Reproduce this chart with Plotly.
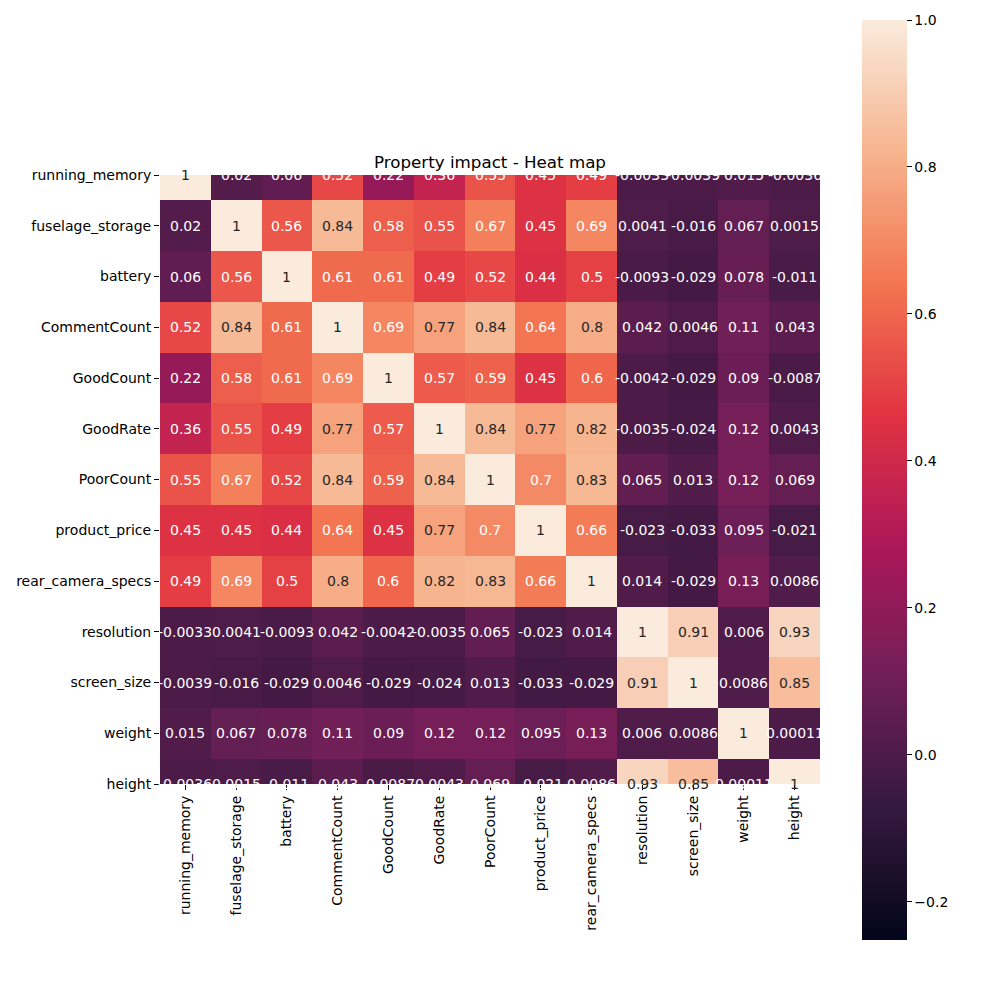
import plotly.graph_objects as go

labels = ["running_memory", "fuselage_storage", "battery", "CommentCount", "GoodCount",
          "GoodRate", "PoorCount", "product_price", "rear_camera_specs", "resolution",
          "screen_size", "weight", "height"]

running_memory    = [1, 0.02, 0.06, 0.52, 0.22, 0.36, 0.55, 0.45, 0.49, -0.0033, -0.0039, 0.015, -0.0036]
fuselage_storage  = [0.02, 1, 0.56, 0.84, 0.58, 0.55, 0.67, 0.45, 0.69, 0.0041, -0.016, 0.067, 0.0015]
battery           = [0.06, 0.56, 1, 0.61, 0.61, 0.49, 0.52, 0.44, 0.5, -0.0093, -0.029, 0.078, -0.011]
comment_count     = [0.52, 0.84, 0.61, 1, 0.69, 0.77, 0.84, 0.64, 0.8, 0.042, 0.0046, 0.11, 0.043]
good_count        = [0.22, 0.58, 0.61, 0.69, 1, 0.57, 0.59, 0.45, 0.6, -0.0042, -0.029, 0.09, -0.0087]
good_rate         = [0.36, 0.55, 0.49, 0.77, 0.57, 1, 0.84, 0.77, 0.82, -0.0035, -0.024, 0.12, 0.0043]
poor_count        = [0.55, 0.67, 0.52, 0.84, 0.59, 0.84, 1, 0.7, 0.83, 0.065, 0.013, 0.12, 0.069]
product_price     = [0.45, 0.45, 0.44, 0.64, 0.45, 0.77, 0.7, 1, 0.66, -0.023, -0.033, 0.095, -0.021]
rear_camera_specs = [0.49, 0.69, 0.5, 0.8, 0.6, 0.82, 0.83, 0.66, 1, 0.014, -0.029, 0.13, 0.0086]
resolution        = [-0.0033, 0.0041, -0.0093, 0.042, -0.0042, -0.0035, 0.065, -0.023, 0.014, 1, 0.91, 0.006, 0.93]
screen_size       = [-0.0039, -0.016, -0.029, 0.0046, -0.029, -0.024, 0.013, -0.033, -0.029, 0.91, 1, 0.0086, 0.85]
weight            = [0.015, 0.067, 0.078, 0.11, 0.09, 0.12, 0.12, 0.095, 0.13, 0.006, 0.0086, 1, 0.00011]
height            = [-0.0036, 0.0015, -0.011, 0.043, -0.0087, 0.0043, 0.069, -0.021, 0.0086, 0.93, 0.85, 0.00011, 1]

matrix = [running_memory, fuselage_storage, battery, comment_count, good_count, good_rate,
          poor_count, product_price, rear_camera_specs, resolution, screen_size, weight, height]

zmin, zmax = -0.252, 1.0

rocket = [
    [0.0, "#03051a"],
    [1/7, "#35193e"],
    [2/7, "#701f57"],
    [3/7, "#ad1759"],
    [4/7, "#e13342"],
    [5/7, "#f37651"],
    [6/7, "#f6b48f"],
    [1.0, "#faebdd"],
]

FONT = "DejaVu Sans"
FS = 14

# page body adds an 8px offset; plot area in the photo: x 160-820, y 175-784
L, T = 152, 167
PW, PH = 660, 609

fig = go.Figure()
fig.add_trace(go.Heatmap(
    z=matrix, x=labels, y=labels,
    colorscale=rocket, zmin=zmin, zmax=zmax,
    colorbar=dict(
        thickness=45, thicknessmode="pixels",
        len=920, lenmode="pixels",
        x=(862 - 160) / PW, xanchor="left", xpad=0,
        y=(784 - 480) / PH, yanchor="middle", ypad=0,
        outlinewidth=0,
        tickmode="array", tickvals=[1.0, 0.8, 0.6, 0.4, 0.2, 0.0, -0.2],
        tickformat=".1f",
        ticks="outside", ticklen=5, tickwidth=1, tickcolor="black",
        tickfont=dict(family=FONT, size=FS, color="black"),
    ),
))

annotations = []
for i, row_name in enumerate(labels):
    for j, col_name in enumerate(labels):
        v = matrix[i][j]
        annotations.append(dict(
            x=col_name, y=row_name, xref="x", yref="y",
            text=format(v, ".2g"), showarrow=False,
            font=dict(family=FONT, size=FS, color="#262626" if v >= 0.75 else "white"),
        ))

fig.update_layout(
    width=1000, height=1000,
    margin=dict(l=L, r=1000 - L - PW, t=T, b=1000 - T - PH, autoexpand=False),
    paper_bgcolor="white", plot_bgcolor="white",
    font=dict(family=FONT, size=FS, color="black"),
    title=dict(text="Property impact - Heat map", x=(490 - 8) / 1000, xanchor="center",
               y=1 - (162 - 8) / 1000, yanchor="middle",
               font=dict(family=FONT, size=16.7, color="black")),
    annotations=annotations,
    xaxis=dict(type="category", showgrid=False, zeroline=False,
               ticks="outside", ticklen=5, tickcolor="black", tickangle=-90,
               tickfont=dict(family=FONT, size=FS, color="black"),
               range=[-0.5, 12.5]),
    yaxis=dict(type="category", showgrid=False, zeroline=False,
               ticks="outside", ticklen=5, tickcolor="black",
               tickfont=dict(family=FONT, size=FS, color="black"),
               range=[12, 0]),
)

fig.write_html("out.html")
